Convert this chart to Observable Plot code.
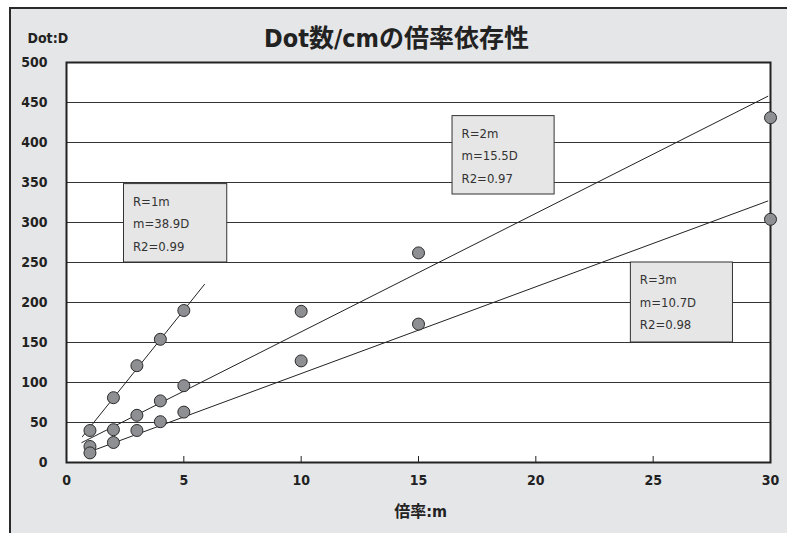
<!DOCTYPE html>
<html><head><meta charset="utf-8">
<script src="https://cdn.jsdelivr.net/npm/d3@7"></script>
<script src="https://cdn.jsdelivr.net/npm/@observablehq/plot@0.6"></script>
<style>
body{margin:0;background:#fff}
#wrap{position:relative;width:787px;height:533px;overflow:hidden;background:#fff}
#bg{position:absolute;left:9px;top:7px;width:820px;height:600px;background:#e5e6e8;border:2px solid #2a2a2a}
#chart{position:absolute;left:0;top:0}
</style></head><body>
<div id="wrap"><div id="bg"></div><div id="chart"></div></div>
<script>
// data
const xR1 = [1, 2, 3, 4, 5];
const yR1 = [40, 81, 121, 154, 190];
const xR23 = [1, 2, 3, 4, 5, 10, 15, 30];
const yR2 = [20, 41, 59, 77, 96, 189, 262, 431];
const yR3 = [12, 25, 40, 51, 63, 127, 173, 304];
// fitted trend line endpoints
const fitNames = ["R=1m", "R=2m", "R=3m"];
const fitX1 = [0.67, 0.64, 0.9];
const fitY1 = [32, 24.7, 12.5];
const fitX2 = [5.89, 29.9, 29.9];
const fitY2 = [223, 458, 327];
// annotation boxes
const noteText = ["R=1m\nm=38.9D\nR2=0.99", "R=2m\nm=15.5D\nR2=0.97", "R=3m\nm=10.7D\nR2=0.98"];
const noteX1 = [2.45, 16.45, 24.05];
const noteX2 = [6.85, 20.8, 28.4];
const noteY1 = [250, 335, 150];
const noteY2 = [348, 433, 250];
// ticks and labels
const xTicks = [0, 5, 10, 15, 20, 25, 30];
const yTicks = [0, 50, 100, 150, 200, 250, 300, 350, 400, 450, 500];
const titleText = "Dot数/cmの倍率依存性";
const xLabel = "倍率:m";
const yLabel = "Dot:D";

const pts = [
  ...xR1.map((x, i) => ({x, y: yR1[i], s: "R=1m"})),
  ...xR23.map((x, i) => ({x, y: yR2[i], s: "R=2m"})),
  ...xR23.map((x, i) => ({x, y: yR3[i], s: "R=3m"}))
];
const fits = fitNames.map((s, i) => ({s, x1: fitX1[i], y1: fitY1[i], x2: fitX2[i], y2: fitY2[i]}));
const notes = noteText.map((t, i) => ({t, x1: noteX1[i], x2: noteX2[i], y1: noteY1[i], y2: noteY2[i]}));

const boldFont = "'DejaVu Sans Condensed','DejaVu Sans','Noto Sans CJK JP',sans-serif";
const regFont = "'DejaVu Sans Condensed','DejaVu Sans',sans-serif";

const chart = Plot.plot({
  width: 787,
  height: 533,
  marginLeft: 66,
  marginRight: 17,
  marginTop: 62,
  marginBottom: 71,
  style: {background: "transparent", fontFamily: boldFont, overflow: "visible"},
  x: {domain: [0, 30]},
  y: {domain: [0, 500]},
  marks: [
    Plot.frame({fill: "white"}),
    Plot.ruleY(yTicks.filter(d => d > 0 && d < 500), {stroke: "#333", strokeWidth: 1}),
    Plot.ruleX(xTicks.filter(d => d > 0 && d < 30), {x: d => d, y1: 0, y2: 7.5, stroke: "#222", strokeWidth: 1}),
    Plot.rect(notes, {x1: "x1", x2: "x2", y1: "y1", y2: "y2", fill: "#e6e6e6", stroke: "#333", strokeWidth: 1}),
    Plot.text(notes, {x: "x1", y: "y2", text: "t", textAnchor: "start", lineAnchor: "top", dx: 9, dy: 6,
      lineHeight: 1.72, fontSize: 13, fill: "#333", fontFamily: regFont}),
    Plot.link(fits, {x1: "x1", y1: "y1", x2: "x2", y2: "y2", stroke: "#222", strokeWidth: 1}),
    Plot.frame({stroke: "#222", strokeWidth: 2}),
    Plot.dot(pts, {x: "x", y: "y", r: 6, fill: "#8d8f92", stroke: "#2a2a2a", strokeWidth: 1}),
    Plot.axisX(xTicks, {tickSize: 0, tickPadding: 13, fontSize: 14, fontWeight: "bold", fill: "#222", label: null}),
    Plot.axisY(yTicks, {tickSize: 0, tickPadding: 19, fontSize: 14, fontWeight: "bold", fill: "#222", label: null}),
    Plot.text([titleText], {frameAnchor: "top", dx: -22, dy: -24, fontSize: 25, fontWeight: "bold", fill: "#222", lineAnchor: "middle"}),
    Plot.text([yLabel], {frameAnchor: "top-left", dx: -39, dy: -24, textAnchor: "start", lineAnchor: "middle", fontSize: 14, fontWeight: "bold", fill: "#222"}),
    Plot.text([xLabel], {frameAnchor: "bottom", dy: 49, dx: 2, lineAnchor: "middle", fontSize: 16, fontWeight: "bold", fill: "#222"})
  ]
});
document.getElementById("chart").appendChild(chart);
</script>
</body></html>
